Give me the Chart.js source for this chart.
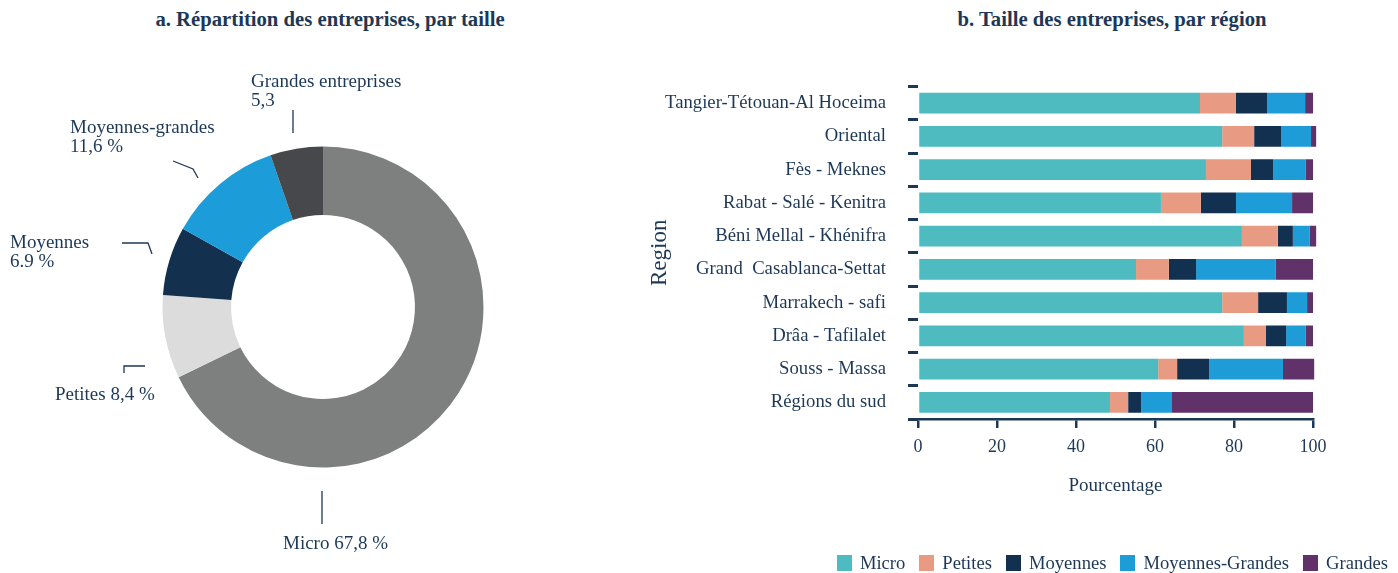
<!DOCTYPE html>
<html>
<head>
<meta charset="utf-8">
<script src="https://cdn.jsdelivr.net/npm/chart.js@4.4.1/dist/chart.umd.min.js"></script>
<style>
  html, body { margin: 0; padding: 0; background: #fff; width: 1398px; height: 573px; overflow: hidden;
    font-family: "Liberation Serif", serif; color: #1d3856; }
  .title { position: absolute; top: 8px; font-weight: bold; font-size: 20.7px; white-space: nowrap; transform: translateX(-50%); }
  #donutChart { position: absolute; left: 0; top: 0; }
  #barChart { position: absolute; left: 640px; top: 0; }
  #barLegend { position: absolute; right: 10px; top: 553px; display: flex; font-size: 18.6px; line-height: 20px; }
  #barLegend .item { display: flex; align-items: center; margin-left: 14px; }
  #barLegend .box { width: 15px; height: 16px; margin-right: 8px; }
</style>
</head>
<body>
<div class="title" style="left:330px">a. Répartition des entreprises, par taille</div>
<div class="title" style="left:1112px">b. Taille des entreprises, par région</div>
<canvas id="donutChart" width="646" height="573"></canvas>
<canvas id="barChart" width="758" height="573"></canvas>
<div id="barLegend"></div>

<script>
const INK = '#1d3856';
const FONT = '"Liberation Serif", serif';

// a. company size breakdown
const sizeCategories = ['Micro', 'Petites', 'Moyennes', 'Moyennes-grandes', 'Grandes entreprises'];
const sizeShares = [67.8, 8.4, 6.9, 11.6, 5.3];
const sizeLabelLines = [['Micro 67,8 %'], ['Petites 8,4 %'], ['Moyennes', '6.9 %'], ['Moyennes-grandes', '11,6 %'], ['Grandes entreprises', '5,3']];
const sizeColors = ['#7e8080', '#dcdcdc', '#14304f', '#1c9cd8', '#47484c'];

// b. size by region (%)
const regions = ['Tangier-Tétouan-Al Hoceima', 'Oriental', 'Fès - Meknes', 'Rabat - Salé - Kenitra',
  'Béni Mellal - Khénifra', 'Grand  Casablanca-Settat', 'Marrakech - safi', 'Drâa - Tafilalet',
  'Souss - Massa', 'Régions du sud'];
const micro      = [71.4, 77.0, 72.9, 61.5, 82.0, 55.2, 77.0, 82.5, 60.8, 48.6];
const petites    = [9.1, 8.1, 11.4, 10.1, 9.1, 8.3, 9.1, 5.6, 4.8, 4.6];
const moyennes   = [7.9, 6.8, 5.6, 8.9, 3.8, 6.9, 7.3, 5.1, 8.1, 3.3];
const moyGrandes = [9.6, 7.6, 8.3, 14.2, 4.3, 20.2, 5.1, 5.0, 18.7, 7.8];
const grandes    = [2.0, 1.3, 1.8, 5.3, 1.6, 9.4, 1.5, 1.8, 7.9, 35.7];
const xTicks = [0, 20, 40, 60, 80, 100];

// leader lines + text, in px from the donut centre (for a 160.5px outer radius)
const leaderLayout = [
  { line: [[-1, 184], [-1, 217]], text: [-40, 237] },
  { line: [[-199, 66], [-199, 59], [-178, 59]], text: [-268, 88] },
  { line: [[-201, -64], [-175, -64], [-171, -53]], text: [-313, -64] },
  { line: [[-150, -146], [-130, -138], [-125, -129]], text: [-253, -179] },
  { line: [[-30, -197], [-30, -174]], text: [-72, -225] }
];

const leaderLabels = {
  id: 'leaderLabels',
  afterDatasetsDraw(chart) {
    const ctx = chart.ctx;
    chart.getDatasetMeta(0).data.forEach((arc, i) => {
      const { x, y, outerRadius } = arc.getProps(['x', 'y', 'outerRadius'], true);
      const k = outerRadius / 160.5;
      const lay = leaderLayout[i];
      ctx.save();
      ctx.strokeStyle = INK;
      ctx.lineWidth = 1.3;
      ctx.beginPath();
      lay.line.forEach(([dx, dy], j) => {
        if (j === 0) ctx.moveTo(x + dx * k, y + dy * k);
        else ctx.lineTo(x + dx * k, y + dy * k);
      });
      ctx.stroke();
      ctx.fillStyle = INK;
      ctx.font = '19px ' + FONT;
      ctx.textAlign = 'left';
      ctx.textBaseline = 'middle';
      sizeLabelLines[i].forEach((t, j) => {
        ctx.fillText(t, x + lay.text[0] * k, y + lay.text[1] * k + j * 19);
      });
      ctx.restore();
    });
  }
};

new Chart(document.getElementById('donutChart'), {
  type: 'doughnut',
  data: {
    labels: sizeCategories,
    datasets: [{ data: sizeShares, backgroundColor: sizeColors, borderWidth: 0 }]
  },
  options: {
    responsive: false,
    animation: false,
    cutout: '57.3%',
    layout: { padding: { left: 162.5, right: 162.5, top: 146.5, bottom: 105.5 } },
    plugins: { legend: { display: false }, tooltip: { enabled: false } }
  },
  plugins: [leaderLabels]
});

const barChart = new Chart(document.getElementById('barChart'), {
  type: 'bar',
  data: {
    labels: regions,
    datasets: [
      { label: 'Micro', data: micro, backgroundColor: '#4dbbc0' },
      { label: 'Petites', data: petites, backgroundColor: '#e89b82' },
      { label: 'Moyennes', data: moyennes, backgroundColor: '#12304f' },
      { label: 'Moyennes-Grandes', data: moyGrandes, backgroundColor: '#1d9cd8' },
      { label: 'Grandes', data: grandes, backgroundColor: '#61326a' }
    ]
  },
  options: {
    indexAxis: 'y',
    responsive: false,
    animation: false,
    layout: { padding: { top: 86.5, right: 85, left: 0, bottom: 54 } },
    datasets: { bar: { barPercentage: 0.63, categoryPercentage: 1, borderWidth: 0, clip: 6 } },
    plugins: { legend: { display: false }, tooltip: { enabled: false } },
    scales: {
      x: {
        stacked: true,
        min: 0,
        max: 100,
        afterBuildTicks: s => { s.ticks = xTicks.map(v => ({ value: v })); },
        afterFit: s => { s.height = 100; },
        border: { color: INK, width: 2.5 },
        grid: { drawOnChartArea: false, tickLength: 9, color: INK, lineWidth: 2.5 },
        ticks: { color: INK, padding: 8, font: { family: FONT, size: 18 } },
        title: { display: true, text: 'Pourcentage', color: INK, padding: { top: 0, bottom: 22 }, font: { family: FONT, size: 19 } }
      },
      y: {
        stacked: true,
        afterFit: s => { s.width = 278; },
        border: { display: false },
        grid: { drawOnChartArea: false, tickLength: 10, color: INK, lineWidth: 3 },
        ticks: { color: INK, padding: 22, font: { family: FONT, size: 18.7 } },
        title: { display: true, text: 'Region', color: INK, padding: { top: 6, bottom: 0 }, font: { family: FONT, size: 23 } }
      }
    }
  }
});

// legend built from the bar datasets
const legendEl = document.getElementById('barLegend');
barChart.data.datasets.forEach(ds => {
  const item = document.createElement('div');
  item.className = 'item';
  item.innerHTML = '<span class="box" style="background:' + ds.backgroundColor + '"></span>' + ds.label;
  legendEl.appendChild(item);
});
</script>
</body>
</html>
